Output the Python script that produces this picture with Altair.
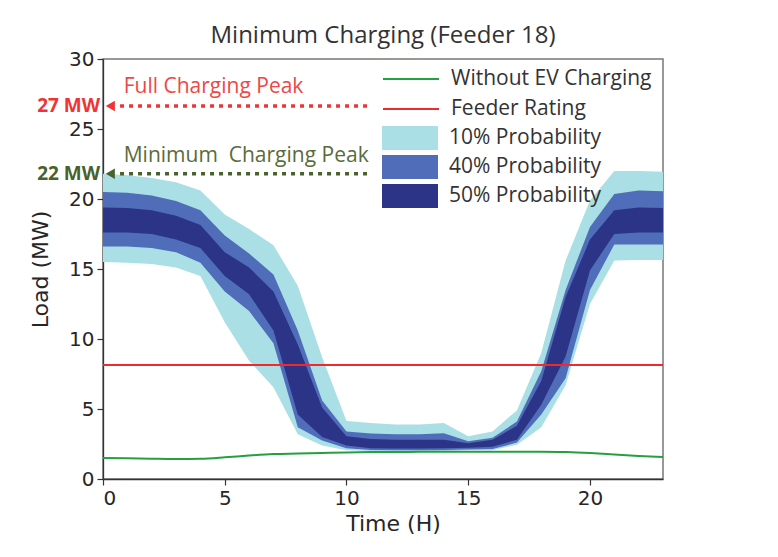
import altair as alt
import pandas as pd

# ---------------- data ----------------
hours = list(range(24))
light_top = [21.8, 21.7, 21.5, 21.2, 20.6, 18.9, 17.85, 16.7, 13.8, 8.7, 4.15, 4.0,
             3.9, 3.9, 4.0, 3.05, 3.4, 4.9, 9.0, 15.6, 19.9, 22.0, 22.0, 21.95]
mid_top = [20.5, 20.45, 20.25, 19.85, 19.2, 17.4, 16.1, 14.6, 10.6, 5.6, 3.4, 3.25,
           3.2, 3.2, 3.26, 2.7, 2.95, 4.1, 7.7, 13.5, 18.0, 20.35, 20.6, 20.55]
dark_top = [19.4, 19.35, 19.2, 18.8, 18.15, 16.2, 15.1, 13.4, 9.6, 5.1, 3.05, 2.85,
            2.8, 2.8, 2.8, 2.55, 2.8, 3.8, 7.0, 13.0, 17.1, 19.2, 19.4, 19.35]
dark_bot = [17.6, 17.6, 17.5, 17.1, 16.5, 14.5, 13.2, 10.6, 4.6, 3.0, 2.4, 2.2,
            2.18, 2.18, 2.2, 2.24, 2.3, 2.8, 5.3, 8.75, 14.9, 17.5, 17.6, 17.6]
mid_bot = [16.6, 16.6, 16.5, 16.2, 15.45, 13.4, 12.0, 9.7, 3.7, 2.75, 2.2, 2.08,
           2.06, 2.06, 2.07, 2.1, 2.15, 2.6, 4.6, 7.2, 13.5, 16.75, 16.75, 16.75]
light_bot = [15.5, 15.45, 15.35, 15.1, 14.5, 11.2, 8.45, 6.55, 3.2, 2.4, 2.05, 2.0,
             2.0, 2.0, 2.0, 2.05, 2.05, 2.45, 3.7, 6.7, 12.5, 15.6, 15.65, 15.65]
without_ev = [1.5, 1.48, 1.45, 1.43, 1.45, 1.55, 1.68, 1.78, 1.82, 1.86, 1.9, 1.92,
              1.93, 1.94, 1.95, 1.95, 1.95, 1.95, 1.95, 1.92, 1.85, 1.75, 1.65, 1.57]
feeder_rating = 8.15

line_names = ["Without EV Charging", "Feeder Rating"]
band_names = ["10% Probability", "40% Probability", "50% Probability"]

peak_labels = ["27 MW", "22 MW"]
peak_values = [26.65, 21.8]
peak_texts = ["Full Charging Peak", "Minimum\u00a0 Charging Peak"]
peak_text_y = [27.97, 23.1]
arrow_start = 0.7
arrow_end = 10.85
text_x = 0.85

# ---------------- styles ----------------
GREEN = "#24a040"
RED = "#ee2a2f"
LIGHT = "#a9dfe5"
MID = "#4f6db9"
DARK = "#2b3487"
ANN_COLORS = ["#ee3434", "#47622a"]
TEXT_COLORS = ["#f04646", "#5a6b3a"]

df = pd.DataFrame({
    "hour": hours, "lt": light_top, "mt": mid_top, "dt": dark_top,
    "db": dark_bot, "mb": mid_bot, "lb": light_bot, "base": without_ev,
})

xs = alt.Scale(domain=[0, 23], nice=False, zero=False)
ys = alt.Scale(domain=[0, 30], nice=False)

fill_scale = alt.Scale(domain=band_names, range=[LIGHT, MID, DARK])
stroke_scale = alt.Scale(domain=line_names, range=[GREEN, RED])

X = alt.X("hour:Q", scale=xs, title="Time (H)",
          axis=alt.Axis(values=[0, 5, 10, 15, 20], titleX=290))
Yax = alt.Axis(values=[0, 5, 10, 15, 20, 25, 30])

fill_legend = alt.Legend(
    title=None, orient="none", legendX=279, legendY=66,
    symbolType="M-1,-0.43H1V0.43H-1Z", symbolSize=3136, symbolStrokeWidth=0,
    clipHeight=26, rowPadding=3, labelOffset=11, padding=0, labelLimit=400,
    labelFont="Open Sans", labelFontSize=21, labelColor="#333333",
)
stroke_legend = alt.Legend(
    title=None, orient="none", legendX=279, legendY=7,
    symbolType="stroke", symbolSize=3136, symbolStrokeWidth=2,
    clipHeight=26, rowPadding=4, labelOffset=11, padding=0, labelLimit=400,
    labelFont="Open Sans", labelFontSize=21, labelColor="#333333",
)

base_chart = alt.Chart(df)
bands = []
for name, top, bot in zip(band_names, ["lt", "mt", "dt"], ["lb", "mb", "db"]):
    bands.append(
        base_chart.transform_calculate(band=f"'{name}'").mark_area(
            opacity=1, interpolate="linear").encode(
            x=X,
            y=alt.Y(f"{top}:Q", scale=ys, title="Load (MW)", axis=Yax),
            y2=f"{bot}:Q",
            fill=alt.Fill("band:N", scale=fill_scale, legend=fill_legend),
        )
    )

green_line = base_chart.transform_calculate(name=f"'{line_names[0]}'").mark_line(
    strokeWidth=2, interpolate="monotone").encode(
    x=X,
    y=alt.Y("base:Q", scale=ys),
    stroke=alt.Stroke("name:N", scale=stroke_scale, legend=stroke_legend),
)

rating_df = pd.DataFrame({"y": [feeder_rating], "name": [line_names[1]]})
rating = alt.Chart(rating_df).mark_rule(strokeWidth=2).encode(
    y=alt.Y("y:Q", scale=ys),
    stroke=alt.Stroke("name:N", scale=stroke_scale, legend=stroke_legend),
)

ann_layers = []
for i in range(2):
    a = pd.DataFrame({
        "x0": [arrow_start], "x1": [arrow_end], "y": [peak_values[i]],
        "label": [peak_labels[i]], "tx": [text_x], "ty": [peak_text_y[i]],
        "text": [peak_texts[i]], "lx": [-0.12], "ax": [0.3],
    })
    ch = alt.Chart(a)
    ann_layers.append(ch.mark_rule(color=ANN_COLORS[i], strokeWidth=3.5,
                                   strokeDash=[4, 5]).encode(
        x=alt.X("x0:Q", scale=xs), x2="x1:Q", y=alt.Y("y:Q", scale=ys)))
    ann_layers.append(ch.mark_point(shape="triangle-left", filled=True, opacity=1,
                                    color=ANN_COLORS[i], size=110).encode(
        x=alt.X("ax:Q", scale=xs), y=alt.Y("y:Q", scale=ys)))
    ann_layers.append(ch.mark_text(align="right", baseline="middle", font="Open Sans",
                                   fontWeight="bold", fontSize=19,
                                   color=ANN_COLORS[i]).encode(
        x=alt.X("lx:Q", scale=xs), y=alt.Y("y:Q", scale=ys), text="label:N"))
    ann_layers.append(ch.mark_text(align="left", baseline="middle", font="Open Sans",
                                   fontSize=21, color=TEXT_COLORS[i]).encode(
        x=alt.X("tx:Q", scale=xs), y=alt.Y("ty:Q", scale=ys), text="text:N"))

chart = alt.layer(*bands, green_line, rating, *ann_layers).properties(
    width=560, height=420,
    title=alt.TitleParams("Minimum Charging (Feeder 18)", font="Open Sans",
                          fontSize=24, fontWeight="normal", color="#333333",
                          anchor="middle", offset=1),
    autosize=alt.AutoSizeParams(type="none"),
    padding={"left": 95, "top": 51, "right": 100, "bottom": 70},
).resolve_scale(fill="shared", stroke="shared").configure_view(
    stroke="#777777", strokeWidth=1.5
).configure_axis(
    grid=False, labelFont="DejaVu Sans", labelFontSize=20, labelColor="#262626",
    titleFont="DejaVu Sans", titleFontSize=22, titleFontWeight="normal",
    titleColor="#262626", tickSize=6, tickColor="#333333", tickWidth=1.2,
    domainColor="#333333", domainWidth=1.3, labelPadding=3,
).configure_axisY(titlePadding=16).configure_axisX(titlePadding=5)

chart.save("out.html", embed_options={"renderer": "svg", "actions": False})
